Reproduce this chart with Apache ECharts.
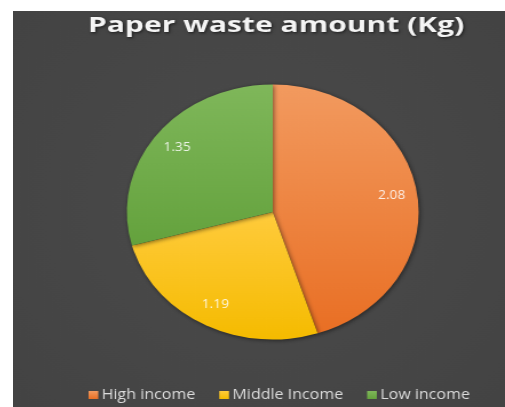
<!DOCTYPE html>
<html>
<head>
<meta charset="utf-8">
<script src="https://cdn.jsdelivr.net/npm/echarts@6/dist/echarts.min.js"></script>
<style>
  html, body { margin: 0; padding: 0; background: #ffffff; width: 505px; height: 407px; overflow: hidden; }
  #frame { position: absolute; left: 13px; top: 11px; width: 492px; height: 396px; overflow: hidden; }
  #chart { position: absolute; left: 0; top: 0; width: 430px; height: 396px;
           transform-origin: 0 0; transform: scaleX(1.1442); }
</style>
</head>
<body>
<div id="frame"><div id="chart"></div></div>
<script>
// Paper waste by household income group (kg)
const titleText = 'Paper waste amount (Kg)';
const categories = ['High income', 'Middle Income', 'Low income'];
const values = [2.08, 1.19, 1.35];

const baseColors = ['#ED7D31', '#FFC000', '#70AD47'];
const gradients = [
  ['#F29A5F', '#E96F24'],
  ['#FFCB3C', '#F5BB00'],
  ['#7FB75A', '#64A23D']
];

function grad(pair) {
  return new echarts.graphic.LinearGradient(0, 0, 0, 1, [
    { offset: 0, color: pair[0] },
    { offset: 1, color: pair[1] }
  ]);
}

const chart = echarts.init(document.getElementById('chart'), null, { renderer: 'canvas' });

const pieData = categories.map((name, i) => ({
  name: name,
  value: values[i],
  itemStyle: { color: grad(gradients[i]) }
}));

const labelData = categories.map((name, i) => ({ name: name, value: values[i] }));

chart.setOption({
  backgroundColor: new echarts.graphic.RadialGradient(0.5, 0.5, 0.75, [
    { offset: 0, color: '#4b4b4b' },
    { offset: 1, color: '#434343' }
  ]),
  animation: false,
  color: baseColors,
  // Title drawn as a graphic text so it can be widened horizontally
  graphic: [{
    type: 'text',
    x: 230,
    y: 15,
    scaleX: 1.25,
    silent: true,
    style: {
      text: titleText,
      textAlign: 'center',
      textVerticalAlign: 'middle',
      fontFamily: 'Open Sans',
      fontWeight: 'bold',
      fontSize: 21,
      fill: '#f4f4f4',
      textShadowColor: 'rgba(0,0,0,0.6)',
      textShadowBlur: 3,
      textShadowOffsetX: 1,
      textShadowOffsetY: 1
    }
  }],
  legend: {
    data: categories,
    bottom: 0,
    left: 61,
    padding: 5,
    itemWidth: 8.5,
    itemHeight: 8,
    itemGap: 21,
    icon: 'rect',
    textStyle: { fontFamily: 'Open Sans', fontSize: 14, color: '#dcdcdc', padding: [0, 0, 0, -2] }
  },
  series: [
    {
      type: 'pie',
      center: [227, 201],
      radius: [0, 127.5],
      startAngle: 90,
      clockwise: true,
      silent: true,
      data: pieData,
      label: { show: false },
      labelLine: { show: false },
      itemStyle: {
        borderWidth: 0,
        shadowColor: 'rgba(0,0,0,0.5)',
        shadowBlur: 4,
        shadowOffsetX: 1,
        shadowOffsetY: 1
      }
    },
    {
      type: 'pie',
      center: [227, 201],
      radius: [77, 127.5],
      startAngle: 90,
      clockwise: true,
      silent: true,
      legendHoverLink: false,
      data: labelData,
      itemStyle: { color: 'rgba(0,0,0,0)' },
      label: {
        show: true,
        position: 'inside',
        formatter: p => p.value.toFixed(2),
        fontFamily: 'Open Sans',
        fontSize: 12,
        color: 'rgba(255,255,255,0.85)'
      },
      labelLine: { show: false }
    }
  ]
});
</script>
</body>
</html>
